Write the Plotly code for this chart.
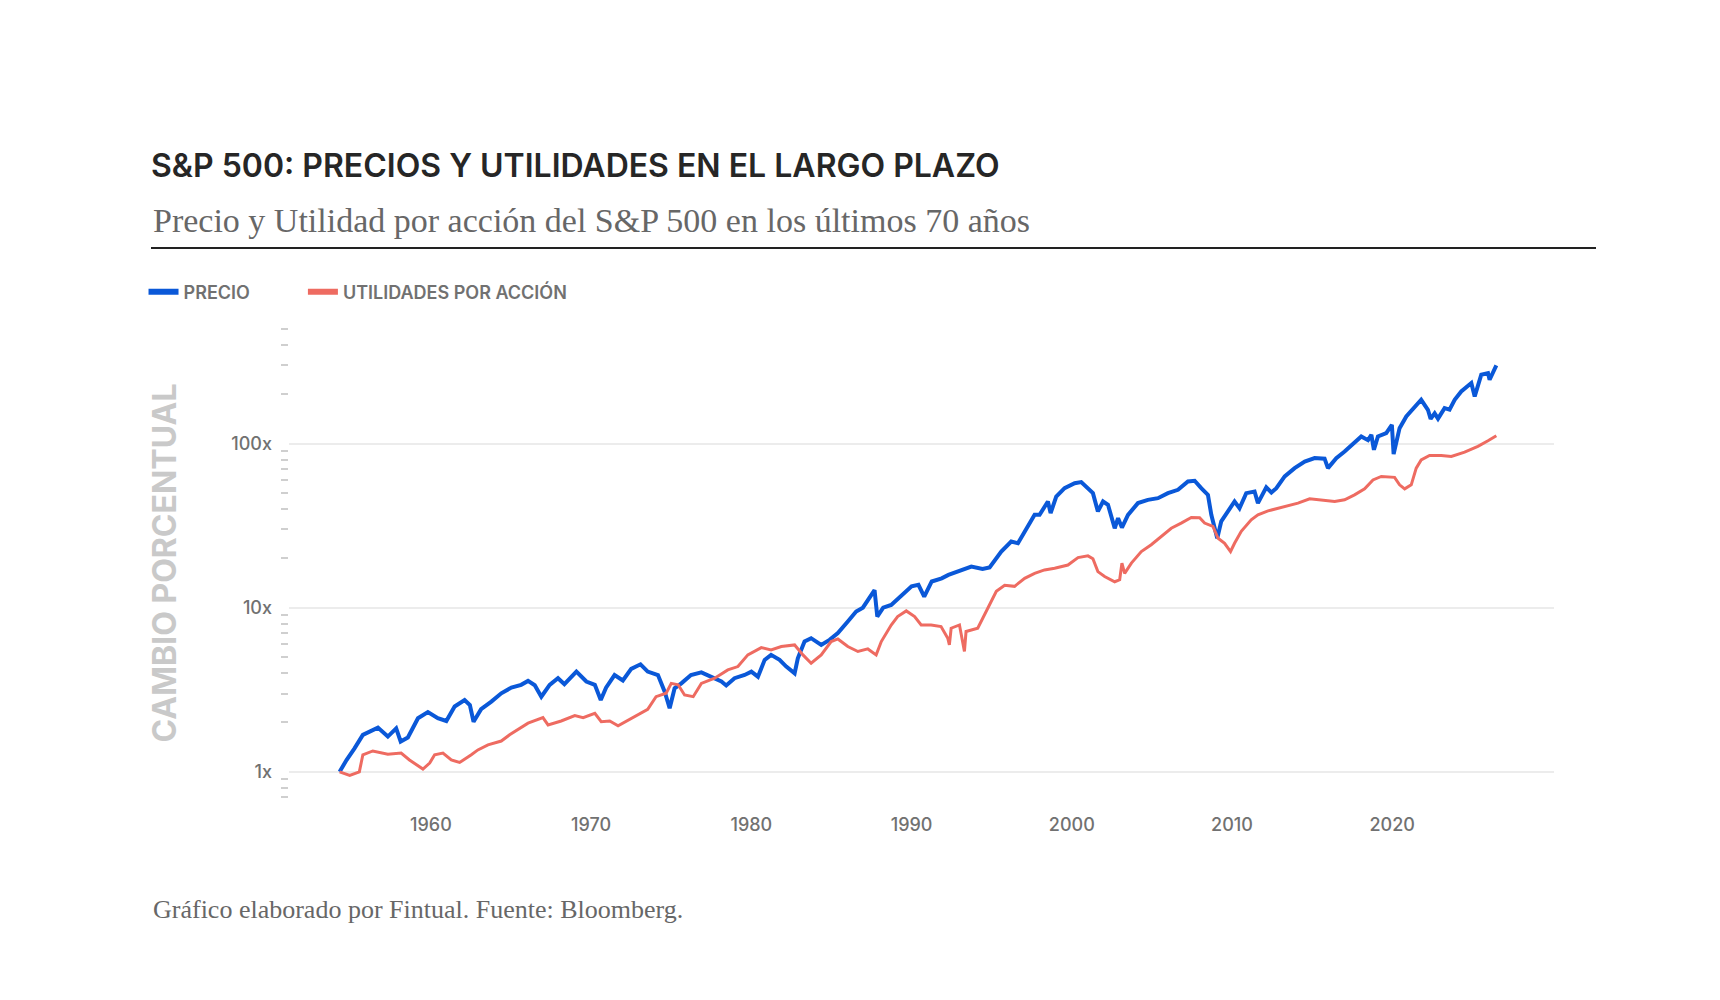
import plotly.graph_objects as go

# S&P 500, veces respecto al inicio (lectura del grafico)
precio_anio = [1954.30, 1954.73, 1955.23, 1955.75, 1956.69, 1957.31, 1957.83, 1958.11, 1958.56, 1959.19,
               1959.81, 1960.43, 1960.96, 1961.48, 1962.10, 1962.43, 1962.66, 1963.13, 1963.77, 1964.39,
               1965.02, 1965.63, 1966.06, 1966.48, 1966.89, 1967.41, 1967.93, 1968.33, 1969.08, 1969.70,
               1970.23, 1970.60, 1970.93, 1971.46, 1971.98, 1972.50, 1973.08, 1973.53, 1974.17, 1974.59,
               1974.90, 1975.21, 1975.63, 1976.23, 1976.88, 1977.50, 1978.13, 1978.43, 1978.95, 1979.58,
               1980.00, 1980.41, 1980.83, 1981.23, 1981.76, 1982.18, 1982.70, 1982.90, 1983.32, 1983.73,
               1984.36, 1984.88, 1985.40, 1986.02, 1986.54, 1986.96, 1987.38, 1987.69, 1987.86, 1988.23,
               1988.73, 1989.38, 1990.00, 1990.43, 1990.79, 1991.26, 1991.88, 1992.30, 1993.13, 1993.73,
               1994.43, 1994.87, 1995.60, 1996.22, 1996.64, 1997.16, 1997.68, 1997.99, 1998.51, 1998.68,
               1999.03, 1999.55, 2000.18, 2000.59, 2001.01, 2001.32, 2001.63, 2001.95, 2002.26, 2002.68,
               2002.89, 2003.13, 2003.51, 2004.13, 2004.75, 2005.38, 2006.00, 2006.63, 2007.25, 2007.67,
               2008.08, 2008.50, 2008.71, 2008.92, 2009.08, 2009.33, 2009.74, 2010.16, 2010.47, 2010.89,
               2011.41, 2011.62, 2012.14, 2012.46, 2012.77, 2013.29, 2013.91, 2014.54, 2015.16, 2015.78,
               2015.99, 2016.51, 2017.03, 2017.65, 2018.07, 2018.49, 2018.70, 2018.86, 2019.11, 2019.63,
               2019.98, 2020.09, 2020.46, 2020.88, 2021.40, 2021.81, 2022.23, 2022.40, 2022.65, 2022.86,
               2023.27, 2023.58, 2023.90, 2024.31, 2024.94, 2025.15, 2025.56, 2025.98, 2026.08, 2026.50]
precio = [1.0, 1.18, 1.39, 1.68, 1.86, 1.64, 1.84, 1.53, 1.62, 2.12,
          2.31, 2.12, 2.04, 2.50, 2.74, 2.55, 2.02, 2.41, 2.68, 3.01,
          3.26, 3.39, 3.58, 3.37, 2.87, 3.39, 3.72, 3.42, 4.08, 3.55,
          3.39, 2.74, 3.26, 3.89, 3.60, 4.24, 4.52, 4.08, 3.89, 3.08,
          2.44, 3.23, 3.46, 3.89, 4.04, 3.80, 3.55, 3.36, 3.72, 3.89,
          4.08, 3.80, 4.81, 5.16, 4.81, 4.38, 3.98, 4.92, 6.22, 6.52,
          5.93, 6.37, 7.0, 8.24, 9.48, 10.0, 11.4, 12.8, 8.83, 10.0,
          10.4, 12.0, 13.5, 13.8, 11.7, 14.45, 15.1, 15.85, 17.0, 17.8,
          17.2, 17.6, 22.0, 25.3, 24.7, 30.5, 36.8, 36.8, 44.4, 37.7,
          47.6, 53.5, 57.4, 58.3, 53.5, 49.9, 38.6, 44.4, 42.4, 30.5,
          35.1, 30.8, 36.8, 43.4, 45.4, 46.5, 49.9, 52.3, 58.8, 59.4,
          53.5, 48.7, 36.8, 30.5, 26.5, 33.6, 38.6, 44.4, 40.4, 49.9,
          51.1, 43.4, 54.1, 50.3, 53.5, 63.1, 70.9, 77.8, 81.6, 81.0,
          70.9, 81.6, 89.6, 100.7, 110.6, 105.0, 113.0, 91.7, 110.6, 115.9,
          130.3, 86.3, 124.2, 146.5, 168.6, 185.0, 160.8, 141.6, 153.0, 142.0,
          164.6, 161.0, 185.0, 208.0, 234.0, 194.0, 263.0, 269.0, 245.0, 300.0]

utilidad_anio = [1954.30, 1954.93, 1955.53, 1955.75, 1956.37, 1957.31, 1958.14, 1958.66, 1959.50, 1959.92,
                 1960.23, 1960.75, 1961.27, 1961.79, 1962.52, 1962.93, 1963.56, 1964.39, 1964.91, 1965.53,
                 1966.06, 1966.99, 1967.31, 1968.13, 1968.98, 1969.50, 1970.23, 1970.63, 1971.16, 1971.68,
                 1972.30, 1973.03, 1973.53, 1974.05, 1974.38, 1974.68, 1975.00, 1975.43, 1975.83, 1976.37,
                 1976.88, 1977.71, 1978.53, 1979.16, 1979.78, 1980.62, 1981.23, 1981.87, 1982.70, 1983.22,
                 1983.73, 1984.36, 1984.98, 1985.40, 1986.02, 1986.65, 1987.27, 1987.79, 1988.11, 1988.73,
                 1989.13, 1989.67, 1990.19, 1990.60, 1991.22, 1991.84, 1992.26, 1992.36, 1992.47, 1992.99,
                 1993.30, 1993.40, 1994.13, 1994.45, 1994.76, 1995.29, 1995.81, 1996.43, 1997.06, 1997.68,
                 1998.30, 1998.93, 1999.76, 2000.39, 2001.01, 2001.32, 2001.63, 2002.05, 2002.68, 2002.99,
                 2003.13, 2003.30, 2003.72, 2004.34, 2004.96, 2005.59, 2006.21, 2006.83, 2007.46, 2007.98,
                 2008.29, 2008.81, 2009.13, 2009.54, 2009.91, 2010.16, 2010.58, 2011.20, 2011.62, 2012.25,
                 2013.08, 2014.12, 2014.85, 2015.57, 2016.41, 2017.03, 2017.65, 2018.28, 2018.80, 2019.32,
                 2020.15, 2020.46, 2020.78, 2021.19, 2021.50, 2021.81, 2022.33, 2023.06, 2023.69, 2024.52,
                 2025.35, 2025.98, 2026.50]
utilidad = [1.0, 0.95, 1.0, 1.27, 1.34, 1.28, 1.30, 1.18, 1.04, 1.13,
            1.27, 1.30, 1.18, 1.14, 1.27, 1.36, 1.46, 1.54, 1.68, 1.84,
            1.98, 2.14, 1.93, 2.04, 2.20, 2.14, 2.27, 2.02, 2.04, 1.91,
            2.07, 2.27, 2.40, 2.87, 2.94, 3.01, 3.46, 3.39, 2.94, 2.87,
            3.46, 3.72, 4.18, 4.38, 5.16, 5.71, 5.53, 5.80, 5.93, 5.16,
            4.59, 5.16, 6.22, 6.45, 5.80, 5.41, 5.61, 5.16, 6.22, 7.85,
            8.84, 9.56, 8.84, 7.85, 7.85, 7.68, 6.52, 5.93, 7.5, 7.85,
            5.41, 7.16, 7.5, 8.63, 9.9, 12.6, 13.7, 13.5, 15.1, 16.2,
            17.0, 17.4, 18.2, 20.2, 20.7, 19.9, 16.6, 15.5, 14.4, 14.8,
            18.7, 16.2, 18.7, 22.0, 24.2, 27.2, 30.5, 32.8, 35.5, 35.3,
            32.8, 31.3, 26.5, 24.7, 22.0, 24.7, 29.2, 34.3, 36.8, 38.9,
            40.8, 43.4, 46.1, 45.5, 44.4, 45.5, 48.7, 53.0, 60.1, 63.1,
            62.3, 56.1, 53.0, 56.1, 70.9, 79.6, 84.7, 84.7, 83.5, 88.7,
            96.2, 104.0, 111.6]

anios_eje = [1960, 1970, 1980, 1990, 2000, 2010, 2020]
veces = [1, 10, 100]
veces_txt = ['1x', '10x', '100x']
menores = [0.7, 0.8, 0.9, 2, 3, 4, 5, 6, 7, 8, 9, 20, 30, 40, 50, 60, 70, 80, 90, 200, 300, 400, 500]

AZUL = '#0a58d8'
ROJO = '#ee6b61'
GRIS = '#717171'
SANS = 'Inter, Roboto, sans-serif'
SERIF = 'Liberation Serif, DejaVu Serif, serif'

fig = go.Figure()
fig.add_trace(go.Scatter(x=precio_anio, y=precio, mode='lines', name='PRECIO',
                         line=dict(color=AZUL, width=4), showlegend=False))
fig.add_trace(go.Scatter(x=utilidad_anio, y=utilidad, mode='lines', name='UTILIDADES POR ACCIÓN',
                         line=dict(color=ROJO, width=3), showlegend=False))
# entradas de leyenda con trazo grueso, cada una en su propia leyenda
fig.add_trace(go.Scatter(x=[None], y=[None], mode='lines', name='PRECIO',
                         line=dict(color=AZUL, width=6), legend='legend'))
fig.add_trace(go.Scatter(x=[None], y=[None], mode='lines', name='UTILIDADES POR ACCIÓN',
                         line=dict(color=ROJO, width=6), legend='legend2'))

ley_font = dict(family=SANS, size=18, color=GRIS, weight=600)

fig.update_layout(
    width=1720, height=1000,
    margin=dict(l=281, r=174, t=315, b=205, autoexpand=False),
    paper_bgcolor='white', plot_bgcolor='white',
    title=dict(text='S&P 500: PRECIOS Y UTILIDADES EN EL LARGO PLAZO',
               font=dict(family=SANS, size=32, color='#262626', weight=600),
               xref='container', x=143 / 1720, xanchor='left',
               yref='container', y=1 - 158 / 1000, yanchor='middle'),
    showlegend=True,
    legend=dict(orientation='h', x=-0.115, xanchor='left', y=1.0646, yanchor='middle',
                font=ley_font, bgcolor='rgba(0,0,0,0)'),
    legend2=dict(orientation='h', x=0.011, xanchor='left', y=1.0646, yanchor='middle',
                 font=ley_font, bgcolor='rgba(0,0,0,0)'),
    xaxis=dict(range=[1951.14, 2030.1], tickvals=anios_eje, showgrid=False, zeroline=False,
               showline=False, ticks='', ticklabelstandoff=9,
               tickfont=dict(family=SANS, size=18, color=GRIS, weight=500)),
    yaxis=dict(type='log', range=[-0.19, 2.735], tickvals=veces, ticktext=veces_txt,
               showgrid=True, gridcolor='#ececec', gridwidth=2, zeroline=False, showline=False,
               ticks='', ticklabelstandoff=16,
               tickfont=dict(family=SANS, size=18, color=GRIS, weight=500),
               minor=dict(tickvals=menores, ticks='outside', ticklen=7, tickwidth=2,
                          tickcolor='#cfcfcf', showgrid=False),
               title=dict(text='CAMBIO PORCENTUAL', standoff=45,
                          font=dict(family=SANS, size=32, color='#c9c9c9', weight=700))),
    shapes=[dict(type='line', xref='paper', yref='paper',
                 x0=(143 - 281) / 1265, x1=(1588 - 281) / 1265,
                 y0=(795 - 240) / 480, y1=(795 - 240) / 480,
                 line=dict(color='#222222', width=2))],
    annotations=[
        dict(text='Precio y Utilidad por acción del S&P 500 en los últimos 70 años',
             xref='paper', yref='paper', x=(143 - 281) / 1265, y=(795 - 212) / 480,
             xanchor='left', yanchor='middle', showarrow=False,
             font=dict(family=SERIF, size=34, color='#676767')),
        dict(text='Gráfico elaborado por Fintual. Fuente: Bloomberg.',
             xref='paper', yref='paper', x=(143 - 281) / 1265, y=(795 - 901) / 480,
             xanchor='left', yanchor='middle', showarrow=False,
             font=dict(family=SERIF, size=26, color='#676767')),
    ],
)

fig.write_html('out.html')
